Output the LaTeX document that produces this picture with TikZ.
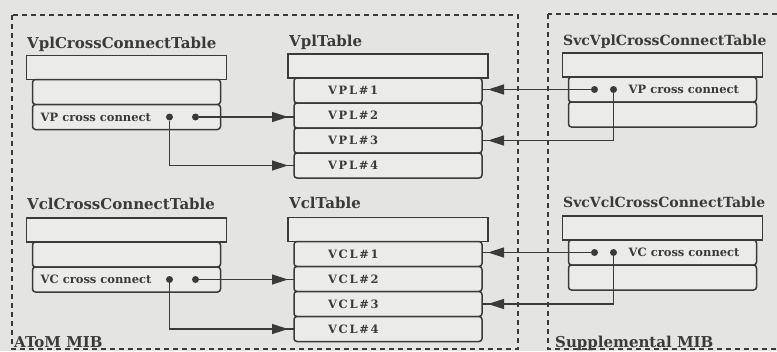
\documentclass[tikz,border=0pt]{standalone}
\usepackage{fontspec}
\setmainfont{DejaVu Serif}
\usepackage{xcolor}
\usepackage{tikz}
\usetikzlibrary{arrows.meta,positioning,decorations.markings}
\definecolor{ink}{RGB}{58,58,58}
\definecolor{paper}{RGB}{228,228,226}
\definecolor{cell}{RGB}{235,235,233}

\begin{document}
\begin{tikzpicture}[x=1pt,y=-1pt,
ttl/.style={anchor=base west,inner sep=0,text=ink,font=\fontsize{15pt}{17pt}\selectfont\bfseries},
hdr/.style={draw=ink,fill=cell,line width=1.5pt,minimum width=200pt,minimum height=24pt,inner sep=0,outer sep=0},
cellbox/.style={draw=ink,fill=cell,line width=1.5pt,rounded corners=3pt,minimum width=188pt,minimum height=25pt,inner sep=0,outer sep=0},
numcell/.style={cellbox,text width=120pt,inner xsep=34pt,align=left,text=ink,font=\fontsize{11.5pt}{13pt}\selectfont\bfseries\addfontfeatures{LetterSpace=15}},
xctxt/.style={anchor=west,inner sep=0,text=ink,font=\fontsize{11.5pt}{13pt}\selectfont\bfseries},
dot/.style={circle,fill=ink,inner sep=0,minimum size=7pt},
frame/.style={draw=ink,line width=1.3pt,dash pattern=on 5pt off 4pt},
go/.style={draw=ink,line width=1.4pt,postaction={decorate},
  decoration={markings,mark=at position -6pt with {\arrow[ink]{Triangle[length=16pt,width=10pt]}}}}]
\useasboundingbox (0,0) rectangle (777,351);
\clip (0,0) rectangle (777,351);
\fill[paper] (0,0) rectangle (777,351);
\draw[frame] (12,15) rectangle (518,349);
\draw[frame] (548,14) rectangle (800,349);
\node[ttl] (atom) at (14,347) {AToM MIB};
\node[ttl] (supp) at (555,347) {Supplemental MIB};
% VP tables
\node[ttl] (vpxt) at (27,48) {VplCrossConnectTable};
\node[hdr] (vpx) at (126.5,67.5) {};
\node[cellbox,below=0pt of vpx] (vpx1) {};
\node[cellbox,below=0pt of vpx1] (vpx2) {};
\node[xctxt,right=8pt of vpx2.west] (vpxc) {VP cross connect};
\node[dot] (vpa) at ([xshift=137pt]vpx2.west) {};
\node[dot] (vpb) at ([xshift=163pt]vpx2.west) {};
\node[ttl] (vplt) at (289,46) {VplTable};
\node[hdr] (vpl) at (388,66) {};
\node[numcell,below=0pt of vpl] (vpl1) {VPL\#1};
\node[numcell,below=0pt of vpl1] (vpl2) {VPL\#2};
\node[numcell,below=0pt of vpl2] (vpl3) {VPL\#3};
\node[numcell,below=0pt of vpl3] (vpl4) {VPL\#4};
\node[ttl,font=\fontsize{14pt}{16pt}\selectfont\bfseries] (svpt) at (563,45) {SvcVplCrossConnectTable};
\node[hdr] (svp) at (662.5,65) {};
\node[cellbox,below=0pt of svp] (svp1) {};
\node[cellbox,below=0pt of svp1] (svp2) {};
\node[xctxt,right=60pt of svp1.west] (svpc) {VP cross connect};
\node[dot] (sva) at ([xshift=26pt]svp1.west) {};
\node[dot] (svb) at ([xshift=45pt]svp1.west) {};
\draw[go] (vpb) -- (vpb -| vpl2.west);
\draw[go] (vpa) |- (vpl4);
\draw[go] (sva) -- (sva -| vpl1.east);
\draw[go] (svb) |- (vpl3);
% VC tables
\node[ttl] (vcxt) at (27,209) {VclCrossConnectTable};
\node[hdr] (vcx) at (126.5,230) {};
\node[cellbox,below=0pt of vcx] (vcx1) {};
\node[cellbox,below=0pt of vcx1] (vcx2) {};
\node[xctxt,right=8pt of vcx2.west] (vcxc) {VC cross connect};
\node[dot] (vca) at ([xshift=137pt]vcx2.west) {};
\node[dot] (vcb) at ([xshift=163pt]vcx2.west) {};
\node[ttl] (vclt) at (289,208) {VclTable};
\node[hdr] (vcl) at (388,229.5) {};
\node[numcell,below=0pt of vcl] (vcl1) {VCL\#1};
\node[numcell,below=0pt of vcl1] (vcl2) {VCL\#2};
\node[numcell,below=0pt of vcl2] (vcl3) {VCL\#3};
\node[numcell,below=0pt of vcl3] (vcl4) {VCL\#4};
\node[ttl,font=\fontsize{14pt}{16pt}\selectfont\bfseries] (svct) at (563,207) {SvcVclCrossConnectTable};
\node[hdr] (svc) at (662.5,228) {};
\node[cellbox,below=0pt of svc] (svc1) {};
\node[cellbox,below=0pt of svc1] (svc2) {};
\node[xctxt,right=60pt of svc1.west] (svcc) {VC cross connect};
\node[dot] (sca) at ([xshift=26pt]svc1.west) {};
\node[dot] (scb) at ([xshift=45pt]svc1.west) {};
\draw[go] (vcb) -- (vcb -| vcl2.west);
\draw[go] (vca) |- (vcl4);
\draw[go] (sca) -- (sca -| vcl1.east);
\draw[go] (scb) |- (vcl3);
\end{tikzpicture}
\end{document}
